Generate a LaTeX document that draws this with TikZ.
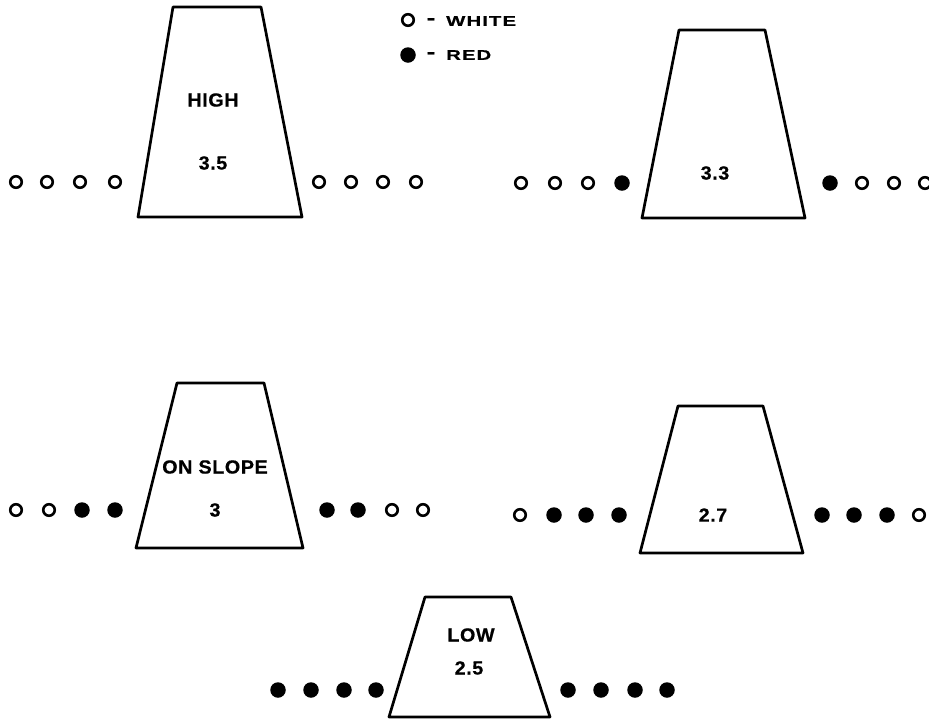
\documentclass[tikz,border=0pt]{standalone}
\usepackage{fontspec}
\setmainfont{Liberation Sans}
\newfontfamily\lblfont{Liberation Sans}[FakeStretch=1.04,LetterSpace=3,FakeBold=0.6]
\newfontfamily\keyfont{Liberation Sans}[FakeStretch=1.45,LetterSpace=8,FakeBold=0.5]
\begin{document}
\begin{tikzpicture}[x=1pt,y=-1pt,
  cone/.style={draw=black,line width=2.7pt,line join=round},
  lbl/.style={inner sep=0pt,font=\lblfont\bfseries\fontsize{19}{19}\selectfont},
  keytext/.style={inner sep=0pt,font=\keyfont\bfseries\fontsize{14}{14}\selectfont},
  keydash/.style={inner sep=0pt,font=\keyfont\bfseries\fontsize{18}{18}\selectfont},
  wdot/.style={circle,draw=black,line width=2.6pt,minimum size=11.5pt,inner sep=0pt},
  rdot/.style={circle,fill=black,minimum size=15.5pt,inner sep=0pt}]
\useasboundingbox (0,0) rectangle (929,721);

% legend
\node[wdot] (kw) at (408,20) {};
\node[rdot] (kr) at (408,55) {};
\node[keydash] (kwd) at (431,21) {-};
\node[keydash] (krd) at (431,55) {-};
\node[keytext,anchor=west] (kwt) at (446,21) {WHITE};
\node[keytext,anchor=west] (krt) at (446,55) {RED};

% cones
\draw[cone] (138,217) -- (173,7) -- (261,7) -- (302,217) -- cycle;
\draw[cone] (642,218) -- (679,30) -- (765,30) -- (805,218) -- cycle;
\draw[cone] (136,548) -- (177,383) -- (264,383) -- (303,548) -- cycle;
\draw[cone] (640,553) -- (678,406) -- (763,406) -- (803,553) -- cycle;
\draw[cone] (389,717) -- (425,597) -- (511,597) -- (550,717) -- cycle;

% cone labels
\node[lbl] (high) at (213,100) {HIGH};
\node[lbl] (v1) at (213,163) {3.5};
\node[lbl] (v2) at (715,173) {3.3};
\node[lbl] (slope) at (215,467) {ON SLOPE};
\node[lbl] (v3) at (215,510) {3};
\node[lbl] (v4) at (713,515) {2.7};
\node[lbl] (low) at (471,635) {LOW};
\node[lbl] (v5) at (469,668) {2.5};

% row 1: all white
\foreach \x [count=\i] in {16,47,80,115} \node[wdot] (a\i) at (\x,182) {};
\foreach \x [count=\i] in {319,351,383,416} \node[wdot] (b\i) at (\x,182) {};

% row 2
\foreach \x [count=\i] in {521,555,588} \node[wdot] (c\i) at (\x,183) {};
\node[rdot] (c4) at (622,183) {};
\node[rdot] (d1) at (830,183) {};
\foreach \x [count=\i from 2] in {862,894,925} \node[wdot] (d\i) at (\x,183) {};

% row 3
\foreach \x [count=\i] in {16,49} \node[wdot] (e\i) at (\x,510) {};
\foreach \x [count=\i from 3] in {82,115} \node[rdot] (e\i) at (\x,510) {};
\foreach \x [count=\i] in {327,358} \node[rdot] (f\i) at (\x,510) {};
\foreach \x [count=\i from 3] in {392,423} \node[wdot] (f\i) at (\x,510) {};

% row 4
\node[wdot] (g1) at (520,515) {};
\foreach \x [count=\i from 2] in {554,586,619} \node[rdot] (g\i) at (\x,515) {};
\foreach \x [count=\i] in {822,854,887} \node[rdot] (h\i) at (\x,515) {};
\node[wdot] (h4) at (919,515) {};

% row 5: all red
\foreach \x [count=\i] in {278,311,344,376} \node[rdot] (k\i) at (\x,690) {};
\foreach \x [count=\i] in {568,601,635,667} \node[rdot] (m\i) at (\x,690) {};
\end{tikzpicture}
\end{document}
